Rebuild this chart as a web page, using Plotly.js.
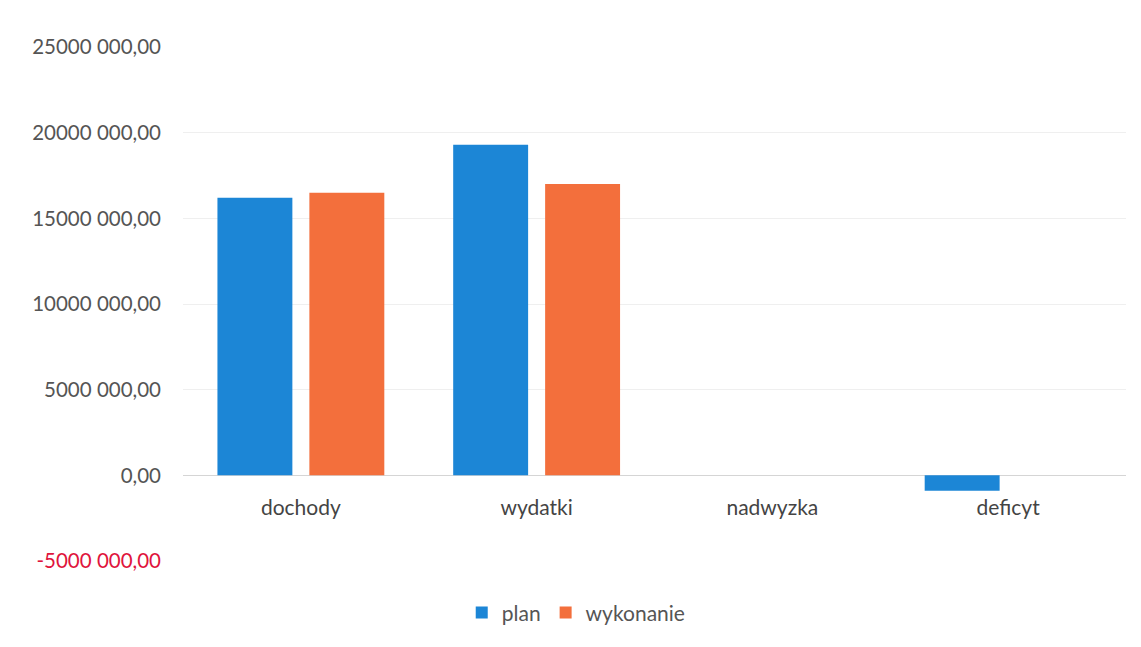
<!DOCTYPE html>
<html><head><meta charset="utf-8">
<script src="https://cdn.plot.ly/plotly-3.0.1.min.js"></script>
<style>html,body{margin:0;padding:0;background:#fff;}#c{width:1141px;height:647px;}</style>
</head><body><div id="c"></div>
<script>
const categories = ["dochody", "wydatki", "nadwyzka", "deficyt"];
const planValues = [16200000, 19300000, 0, -900000];
const wykonanieValues = [16500000, 17000000, 0, 0];
const tickValues = [-5000000, 0, 5000000, 10000000, 15000000, 20000000, 25000000];
const tickLabels = ['<span style="color:#e0143c">-5000 000,00</span>', "0,00", "5000 000,00", "10000 000,00", "15000 000,00", "20000 000,00", "25000 000,00"];

const traces = [
  {type: "bar", name: "plan", x: categories, y: planValues,
   marker: {color: "#1c86d6", line: {color: "#1569ad", width: 0}}},
  {type: "bar", name: "wykonanie", x: categories, y: wykonanieValues,
   marker: {color: "#f36f3c", line: {color: "#c95a30", width: 0}}}
];
const layout = {
  width: 1141, height: 647,
  margin: {l: 183, r: 15, t: 47, b: 86},
  paper_bgcolor: "#ffffff", plot_bgcolor: "#ffffff",
  font: {family: "Lato, 'Open Sans', sans-serif", size: 20, color: "#555555"},
  barmode: "group", bargap: 0.22, bargroupgap: 0.185,
  showlegend: true,
  legend: {orientation: "h", x: 0.417, xanchor: "center", y: -0.101, yanchor: "middle",
           font: {size: 21, color: "#555555"}, traceorder: "normal"},
  xaxis: {anchor: "free", position: 1/6, showline: false, showgrid: false, zeroline: false,
          ticks: "", tickfont: {size: 21, color: "#444444"}, ticklabelstandoff: 18},
  yaxis: {range: [-5000000, 25000000], tickvals: tickValues, ticktext: tickLabels,
          showgrid: true, gridcolor: "#efefef", gridwidth: 1,
          zeroline: true, zerolinecolor: "#d5d5d5", zerolinewidth: 1.5,
          showline: false, ticks: "", ticklabelstandoff: 21,
          tickfont: {size: 20.5, color: "#555555"}}
};
Plotly.newPlot("c", traces, layout, {displayModeBar: false, staticPlot: true});
</script></body></html>
